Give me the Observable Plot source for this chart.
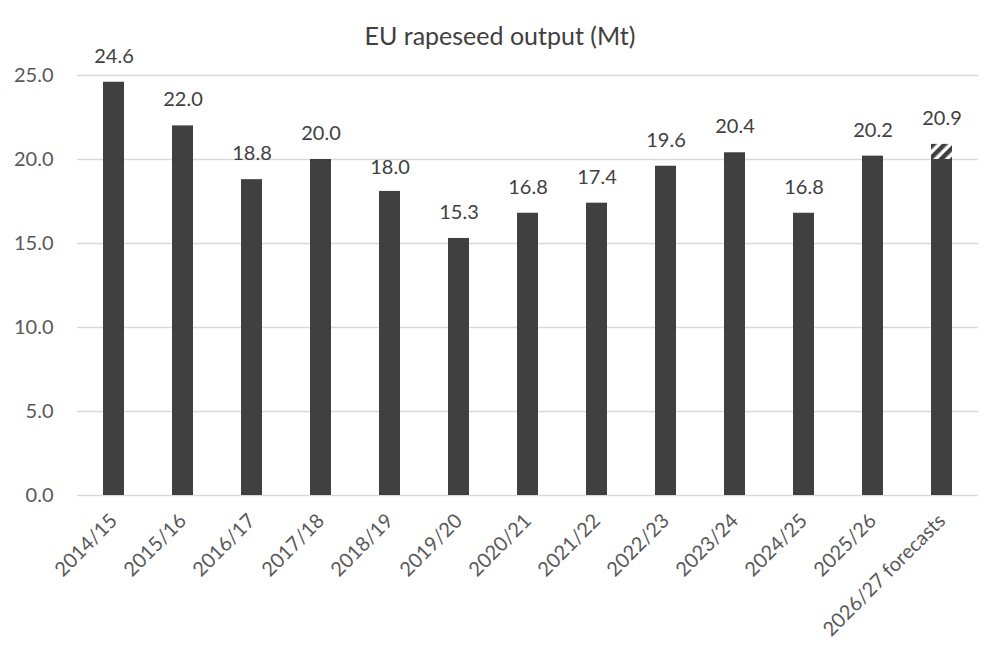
<!DOCTYPE html>
<html><head><meta charset="utf-8">
<script src="https://cdn.jsdelivr.net/npm/d3@7"></script>
<script src="https://cdn.jsdelivr.net/npm/@observablehq/plot@0.6"></script>
<style>
body{margin:0;background:#fff;font-family:Lato,sans-serif;}
#title{height:45px;box-sizing:border-box;padding-top:20px;font-size:25px;line-height:30px;text-align:center;color:#404040;}
</style></head>
<body>
<div id="title">EU rapeseed output (Mt)</div>
<div id="chart"></div>
<script>
const categories = ["2014/15","2015/16","2016/17","2017/18","2018/19","2019/20","2020/21","2021/22","2022/23","2023/24","2024/25","2025/26","2026/27 forecasts"];
const values = [24.6, 22.0, 18.8, 20.0, 18.0, 15.3, 16.8, 17.4, 19.6, 20.4, 16.8, 20.2, 20.9];
const solidValues = [24.6, 22.0, 18.8, 20.0, 18.1, 15.3, 16.8, 17.4, 19.6, 20.4, 16.8, 20.2, 20.0];
const forecastCategory = "2026/27 forecasts";
const yTicks = [0, 5, 10, 15, 20, 25];

const data = categories.map((c, i) => ({cat: c, value: values[i], solid: solidValues[i]}));
const forecast = data.filter(d => d.cat === forecastCategory);

const chart = Plot.plot({
  width: 1000,
  height: 622,
  marginTop: 30,
  marginBottom: 172,
  marginLeft: 77,
  marginRight: 22,
  style: {fontFamily: 'Lato, sans-serif', fontSize: "20px", color: "#595959", background: "#fff", overflow: "visible"},
  x: {domain: categories, paddingInner: 0.69, paddingOuter: 0.345, label: null},
  y: {domain: [0, 25], label: null},
  marks: [
    Plot.gridY(yTicks, {stroke: "#d9d9d9", strokeOpacity: 1, strokeWidth: 1.3}),
    Plot.axisY(yTicks, {tickSize: 0, tickPadding: 24, tickFormat: d => d.toFixed(1), fontSize: 20, fill: "#595959"}),
    Plot.axisX({tickSize: 0, tickPadding: 22, tickRotate: -45, fontSize: 20, fill: "#595959"}),
    Plot.barY(data, {x: "cat", y: "solid", fill: "#404040"}),
    Plot.rectY(forecast, {x: "cat", y1: "solid", y2: "value", fill: "url(#hatch)"}),
    Plot.text(data, {x: "cat", y: "value", text: d => d.value.toFixed(1), dy: -26, fontSize: 20, fill: "#404040"})
  ]
});

const ns = "http://www.w3.org/2000/svg";
const defs = document.createElementNS(ns, "defs");
defs.innerHTML = '<pattern id="hatch" patternUnits="userSpaceOnUse" width="8" height="8" patternTransform="rotate(45)"><rect width="8" height="8" fill="#fff"/><rect width="4.5" height="8" fill="#404040"/></pattern>';
chart.insertBefore(defs, chart.firstChild);
document.getElementById("chart").append(chart);
</script>
</body></html>
